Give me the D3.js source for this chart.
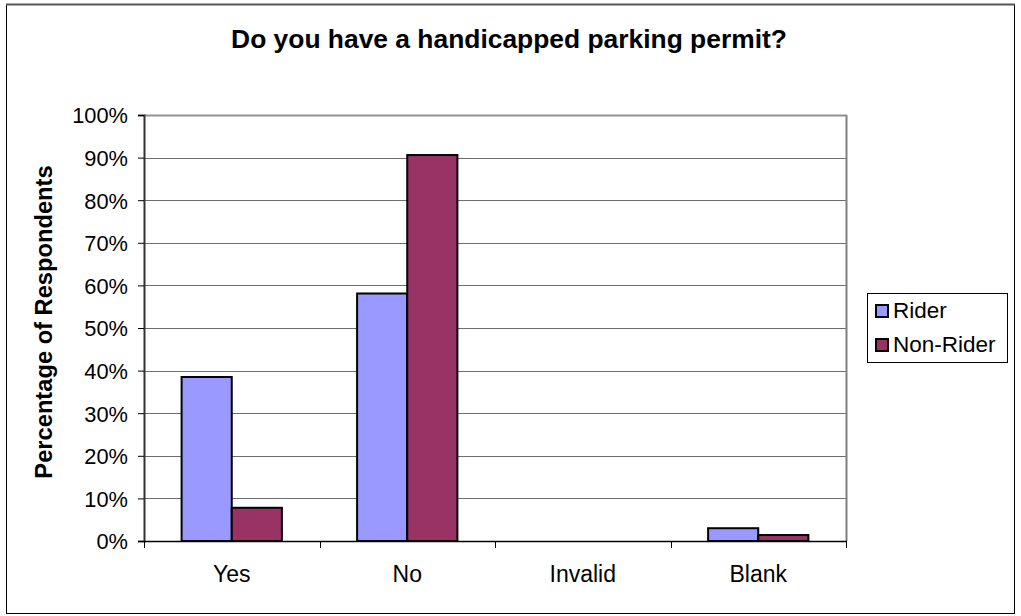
<!DOCTYPE html>
<html>
<head>
<meta charset="utf-8">
<script src="https://cdn.jsdelivr.net/npm/d3@7"></script>
<style>
  html, body { margin: 0; padding: 0; background: #fff; }
  svg { display: block; font-family: Arial, "Liberation Sans", sans-serif; }
</style>
</head>
<body>
<svg id="chart" width="1021" height="616"></svg>
<script>
// Survey answers by group
const categories = ["Yes", "No", "Invalid", "Blank"];
const seriesNames = ["Rider", "Non-Rider"];
const riderValues = [0.385, 0.581, 0, 0.030];
const nonRiderValues = [0.078, 0.906, 0, 0.014];
const yTicks = [0, 0.1, 0.2, 0.3, 0.4, 0.5, 0.6, 0.7, 0.8, 0.9, 1.0];
const seriesColors = ["#9999ff", "#993366"];

const FONT = "Arial, 'Liberation Sans', sans-serif";
const svg = d3.select("#chart");

// outer frame
svg.append("rect").attr("x", 6.5).attr("y", 4.5).attr("width", 1008).attr("height", 609)
  .attr("fill", "#fff").attr("stroke", "#000").attr("stroke-width", 1);
svg.append("line").attr("x1", 6).attr("x2", 1015).attr("y1", 4.5).attr("y2", 4.5)
  .attr("stroke", "#555").attr("stroke-width", 2);

const plot = { left: 144, right: 846, top: 115, bottom: 541 };

const x0 = d3.scaleBand().domain(categories).range([plot.left, plot.right]).paddingInner(0).paddingOuter(0);
const y = d3.scaleLinear().domain([0, 1]).range([plot.bottom, plot.top]);

// gridlines
svg.append("g").selectAll("line").data(yTicks.filter(t => t > 0)).join("line")
  .attr("x1", plot.left).attr("x2", plot.right)
  .attr("y1", d => Math.round(y(d)) + 0.5).attr("y2", d => Math.round(y(d)) + 0.5)
  .attr("stroke", "#6e6e6e").attr("stroke-width", 1);

// plot frame top and right
svg.append("line").attr("x1", plot.right + 0.5).attr("x2", plot.right + 0.5)
  .attr("y1", plot.top).attr("y2", plot.bottom).attr("stroke", "#808080").attr("stroke-width", 2);
svg.append("line").attr("x1", plot.left).attr("x2", plot.right + 1)
  .attr("y1", plot.top + 0.5).attr("y2", plot.top + 0.5).attr("stroke", "#909090").attr("stroke-width", 2);

// bars: width = band / (2 bars + 1.5 gap)
const barW = x0.bandwidth() / 3.5;
const groups = svg.append("g");
categories.forEach((c, i) => {
  const vals = [riderValues[i], nonRiderValues[i]];
  const gx = x0(c) + x0.bandwidth() / 2 - barW;
  vals.forEach((v, k) => {
    if (v <= 0) return;
    groups.append("rect")
      .attr("x", gx + k * barW)
      .attr("y", y(v))
      .attr("width", barW)
      .attr("height", y(0) - y(v))
      .attr("fill", seriesColors[k])
      .attr("stroke", "#000")
      .attr("stroke-width", 2);
  });
});

// y axis
const yAxis = d3.axisLeft(y).tickValues(yTicks).tickFormat(d3.format(".0%")).tickSize(6).tickPadding(10);
const gy = svg.append("g").attr("transform", `translate(${plot.left},0)`).call(yAxis);
gy.select(".domain").attr("stroke", "#333").attr("stroke-width", 2);
gy.selectAll(".tick line").attr("stroke", "#000");
gy.selectAll("text").attr("font-size", 21.8).attr("fill", "#000").attr("font-family", FONT).attr("dy", "0.36em");

// x axis
const xAxis = d3.axisBottom(x0).tickSize(0).tickPadding(25);
const gx = svg.append("g").attr("transform", `translate(0,${plot.bottom})`).call(xAxis);
gx.select(".domain").remove();
gx.selectAll("text").attr("font-size", 23).attr("fill", "#000").attr("font-family", FONT);
svg.append("line").attr("x1", plot.left).attr("x2", plot.right + 1)
  .attr("y1", plot.bottom + 0.5).attr("y2", plot.bottom + 0.5).attr("stroke", "#000").attr("stroke-width", 1.5);
const boundaries = d3.range(categories.length + 1).map(i => plot.left + i * x0.bandwidth());
svg.append("g").selectAll("line").data(boundaries).join("line")
  .attr("x1", d => Math.round(d) + 0.5).attr("x2", d => Math.round(d) + 0.5)
  .attr("y1", plot.bottom).attr("y2", plot.bottom + 7)
  .attr("stroke", "#000").attr("stroke-width", 1);

// title
svg.append("text").attr("x", 509).attr("y", 48).attr("text-anchor", "middle")
  .attr("font-size", 26.4).attr("font-weight", "bold").text("Do you have a handicapped parking permit?");

// y axis title
svg.append("text").attr("transform", "translate(52,322) rotate(-90)").attr("text-anchor", "middle")
  .attr("font-size", 23.7).attr("font-weight", "bold").text("Percentage of Respondents");

// legend
const lg = svg.append("g");
lg.append("rect").attr("x", 867.5).attr("y", 293.5).attr("width", 140).attr("height", 69)
  .attr("fill", "#fff").attr("stroke", "#000").attr("stroke-width", 1);
seriesNames.forEach((name, i) => {
  const yy = 305 + i * 34;
  lg.append("rect").attr("x", 876).attr("y", yy).attr("width", 12).attr("height", 12)
    .attr("fill", seriesColors[i]).attr("stroke", "#000").attr("stroke-width", 2);
  lg.append("text").attr("x", 893).attr("y", yy + 13).attr("font-size", 22.5).text(name);
});
</script>
</body>
</html>
